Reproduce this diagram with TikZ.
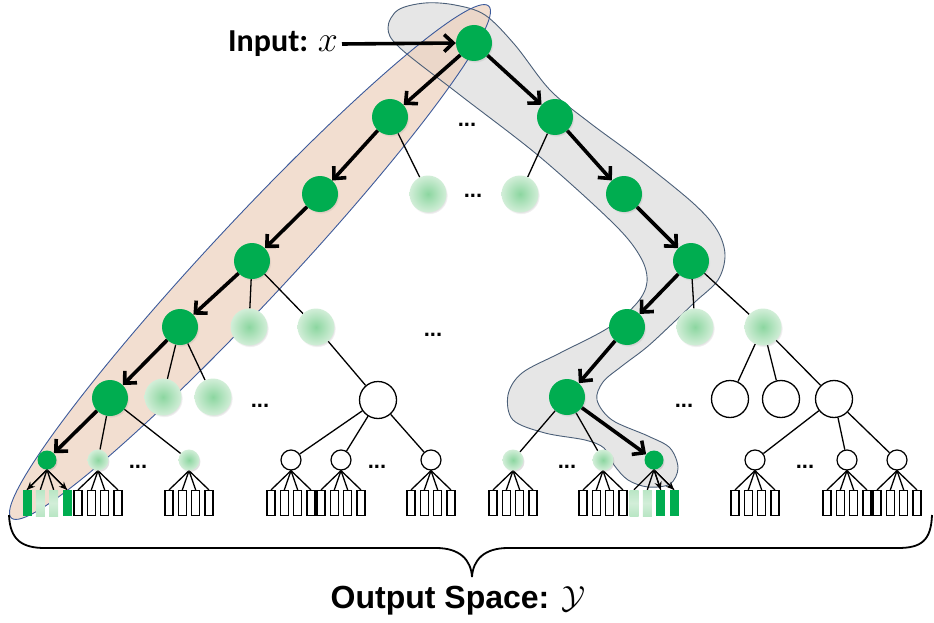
\documentclass[tikz,border=0pt]{standalone}
\usepackage{fix-cm}
\usepackage{fontspec}
\setmainfont{Liberation Sans}
\newfontfamily\carl{Carlito}
\usetikzlibrary{arrows.meta,shadows}
\pgfdeclarelayer{bg}
\pgfdeclarelayer{edges}
\pgfsetlayers{bg,edges,main}
\definecolor{gG}{RGB}{0,173,80}
\definecolor{lgIn}{RGB}{140,214,160}
\definecolor{lgOut}{RGB}{210,238,216}
\definecolor{lgLeaf}{RGB}{185,230,197}
\definecolor{peach}{RGB}{238,211,192}
\definecolor{grayb}{RGB}{230,230,230}
\definecolor{peachline}{RGB}{60,90,155}
\definecolor{grayline}{RGB}{75,95,120}
\newcommand{\leafgroup}[6]{%
  \node[#3] (#1-1) at (#2-20,503) {};
  \node[#4] (#1-2) at (#2-6.7,503) {};
  \node[#5] (#1-3) at (#2+6.7,503) {};
  \node[#6] (#1-4) at (#2+20,503) {};
  \begin{pgfonlayer}{edges}
  \foreach \k in {1,...,4} {\draw[thinl] (#1.south) -- (#1-\k.north);}
  \end{pgfonlayer}
}
\begin{document}
\begin{tikzpicture}[x=1pt,y=-1pt,
  shad/.style={circular drop shadow={shadow xshift=1pt,shadow yshift=-1.5pt,opacity=0.25,shadow scale=1.02}},
  gnode/.style={circle,fill=gG,minimum size=36pt,inner sep=0pt,shad},
  sgnode/.style={circle,fill=gG,minimum size=19pt,inner sep=0pt,shad},
  lnode/.style={circle,shading=radial,inner color=lgIn,outer color=lgOut,minimum size=37pt,inner sep=0pt,shad},
  slnode/.style={circle,shading=radial,inner color=lgIn,outer color=lgOut,minimum size=21pt,inner sep=0pt,shad},
  wnode/.style={circle,draw=black,line width=1.3pt,fill=white,minimum size=37pt,inner sep=0pt},
  swnode/.style={circle,draw=black,line width=1.2pt,fill=white,minimum size=20pt,inner sep=0pt},
  wleaf/.style={rectangle,draw=black,line width=1.1pt,fill=white,minimum width=8pt,minimum height=25pt,inner sep=0pt},
  gleaf/.style={rectangle,fill=gG,minimum width=9pt,minimum height=26pt,inner sep=0pt},
  lleaf/.style={rectangle,top color=lgLeaf,bottom color=lgLeaf,middle color=lgOut,minimum width=9pt,minimum height=26pt,inner sep=0pt},
  thinl/.style={line width=1.3pt,black},
  bigarr/.style={line width=3.6pt,black,-{Straight Barb[length=9pt,width=17pt]}},
  smarr/.style={line width=1.3pt,black,-{Stealth[length=8pt,width=7pt]}},
  dotsn/.style={font=\bfseries\fontsize{22}{24}\selectfont,inner sep=0pt}
]
\useasboundingbox (0,0) rectangle (934,623);

% main chain nodes
\node[gnode] (root) at (474,43) {};
\node[gnode] (L1) at (390,117) {};
\node[gnode] (L2) at (320,194) {};
\node[gnode] (L3) at (252,261) {};
\node[gnode] (L4) at (180,327) {};
\node[gnode] (L5) at (110,398) {};
\node[sgnode] (L6) at (47,460) {};
\node[gnode] (R1) at (555,117) {};
\node[gnode] (R2) at (624,194) {};
\node[gnode] (R3) at (691,261) {};
\node[gnode] (R4) at (627,327) {};
\node[gnode] (R5) at (567,397) {};
\node[sgnode] (R6) at (654,460) {};

% light nodes
\node[lnode] (la) at (428,194) {};
\node[lnode] (lb) at (520,194) {};
\node[lnode] (lc) at (249,327) {};
\node[lnode] (ld) at (316,327) {};
\node[lnode] (le) at (163,397) {};
\node[lnode] (lf) at (213,397) {};
\node[lnode] (lg) at (695,327) {};
\node[lnode] (lh) at (763,327) {};
\node[slnode] (s1) at (98,460) {};
\node[slnode] (s2) at (189,460) {};
\node[slnode] (s3) at (513,460) {};
\node[slnode] (s4) at (603,460) {};

% white nodes
\node[wnode] (w1) at (378,400) {};
\node[wnode] (w2) at (730,399) {};
\node[wnode] (w3) at (781,399) {};
\node[wnode] (w4) at (834,399) {};
\node[swnode] (t1) at (291,460) {};
\node[swnode] (t2) at (341,460) {};
\node[swnode] (t3) at (431,460) {};
\node[swnode] (t4) at (755,460) {};
\node[swnode] (t5) at (847,460) {};
\node[swnode] (t6) at (897,460) {};

% leaves
\leafgroup{L6}{47}{gleaf}{lleaf}{lleaf}{gleaf}
\leafgroup{s1}{98}{wleaf}{wleaf}{wleaf}{wleaf}
\leafgroup{s2}{189}{wleaf}{wleaf}{wleaf}{wleaf}
\leafgroup{t1}{291}{wleaf}{wleaf}{wleaf}{wleaf}
\leafgroup{t2}{341}{wleaf}{wleaf}{wleaf}{wleaf}
\leafgroup{t3}{431}{wleaf}{wleaf}{wleaf}{wleaf}
\leafgroup{s3}{513}{wleaf}{wleaf}{wleaf}{wleaf}
\leafgroup{s4}{603}{wleaf}{wleaf}{wleaf}{wleaf}
\leafgroup{R6}{654}{lleaf}{lleaf}{gleaf}{gleaf}
\leafgroup{t4}{755}{wleaf}{wleaf}{wleaf}{wleaf}
\leafgroup{t5}{847}{wleaf}{wleaf}{wleaf}{wleaf}
\leafgroup{t6}{897}{wleaf}{wleaf}{wleaf}{wleaf}

% dots
\node[dotsn] (d1) at (467,125) {...};
\node[dotsn] (d2) at (473,196) {...};
\node[dotsn] (d3) at (433,335) {...};
\node[dotsn] (d4) at (260,406) {...};
\node[dotsn] (d5) at (684,406) {...};
\node[dotsn] (d6) at (138,467) {...};
\node[dotsn] (d7) at (377,467) {...};
\node[dotsn] (d8) at (567,467) {...};
\node[dotsn] (d9) at (805,467) {...};

% texts
\node[font=\carl\bfseries\fontsize{32}{36}\selectfont,anchor=east,inner sep=4pt] (inp) at (342,44) {Input: {\fontsize{36}{40}\selectfont$x$}};
\node[font=\bfseries\fontsize{32}{36}\selectfont] (out) at (458,601) {Output Space: $\mathcal{Y}$};

\begin{pgfonlayer}{edges}
\draw[bigarr] (inp.east) -- (root.west);
\draw[bigarr] (root) -- (L1);
\draw[bigarr] (L1) -- (L2);
\draw[bigarr] (L2) -- (L3);
\draw[bigarr] (L3) -- (L4);
\draw[bigarr] (L4) -- (L5);
\draw[bigarr] (L5) -- (L6);
\draw[bigarr] (root) -- (R1);
\draw[bigarr] (R1) -- (R2);
\draw[bigarr] (R2) -- (R3);
\draw[bigarr] (R3) -- (R4);
\draw[bigarr] (R4) -- (R5);
\draw[bigarr] (R5) -- (R6);
\draw[thinl] (L1) -- (la);
\draw[thinl] (R1) -- (lb);
\draw[thinl] (L3) -- (lc);
\draw[thinl] (L3) -- (ld);
\draw[thinl] (ld) -- (w1);
\draw[thinl] (L4) -- (le);
\draw[thinl] (L4) -- (lf);
\draw[thinl] (L5) -- (s1);
\draw[thinl] (L5) -- (s2);
\draw[thinl] (w1) -- (t1);
\draw[thinl] (w1) -- (t2);
\draw[thinl] (w1) -- (t3);
\draw[thinl] (R3) -- (lg);
\draw[thinl] (R3) -- (lh);
\draw[thinl] (lh) -- (w2);
\draw[thinl] (lh) -- (w3);
\draw[thinl] (lh) -- (w4);
\draw[thinl] (w4) -- (t4);
\draw[thinl] (w4) -- (t5);
\draw[thinl] (w4) -- (t6);
\draw[thinl] (R5) -- (s3);
\draw[thinl] (R5) -- (s4);
\draw[smarr] (L6.south) -- (L6-1.north);
\draw[smarr] (L6.south) -- (L6-4.north);
\draw[smarr] (R6.south) -- (R6-3.north);
\draw[smarr] (R6.south) -- (R6-4.north);
\end{pgfonlayer}

\begin{pgfonlayer}{bg}
\path[fill=grayb] plot[smooth cycle,tension=0.55] coordinates {
 (388,28) (398,10) (425,3) (455,5) (485,15) (515,45) (550,90) (590,123)
 (640,160) (693,203) (717,230) (725,255) (718,280) (695,302) (673,323)
 (647,347) (622,366) (603,382) (597,400) (612,420) (648,436) (670,448)
 (678,468) (670,484) (648,487) (628,480) (614,465) (604,448) (585,440)
 (545,433) (513,420) (508,395) (522,373) (560,353) (608,328) (637,303)
 (647,282) (641,258) (615,225) (540,157) (460,95) (400,48)};
\path[fill=peach,fill opacity=0.75,rotate around={47:(250,262)}] (250,262) ellipse [x radius=350,y radius=40];
\draw[grayline,line width=0.9pt] plot[smooth cycle,tension=0.55] coordinates {
 (388,28) (398,10) (425,3) (455,5) (485,15) (515,45) (550,90) (590,123)
 (640,160) (693,203) (717,230) (725,255) (718,280) (695,302) (673,323)
 (647,347) (622,366) (603,382) (597,400) (612,420) (648,436) (670,448)
 (678,468) (670,484) (648,487) (628,480) (614,465) (604,448) (585,440)
 (545,433) (513,420) (508,395) (522,373) (560,353) (608,328) (637,303)
 (647,282) (641,258) (615,225) (540,157) (460,95) (400,48)};
\draw[peachline,line width=0.9pt,rotate around={47:(250,262)}] (250,262) ellipse [x radius=350,y radius=40];
% brace
\draw[black,line width=1.8pt] (9,515) .. controls (10,540) and (22,548) .. (45,548)
  -- (436,548) .. controls (460,548) and (471,560) .. (472,577)
  .. controls (473,560) and (484,548) .. (508,548) -- (898,548)
  .. controls (922,548) and (931,540) .. (932,515);
\end{pgfonlayer}
\end{tikzpicture}
\end{document}
